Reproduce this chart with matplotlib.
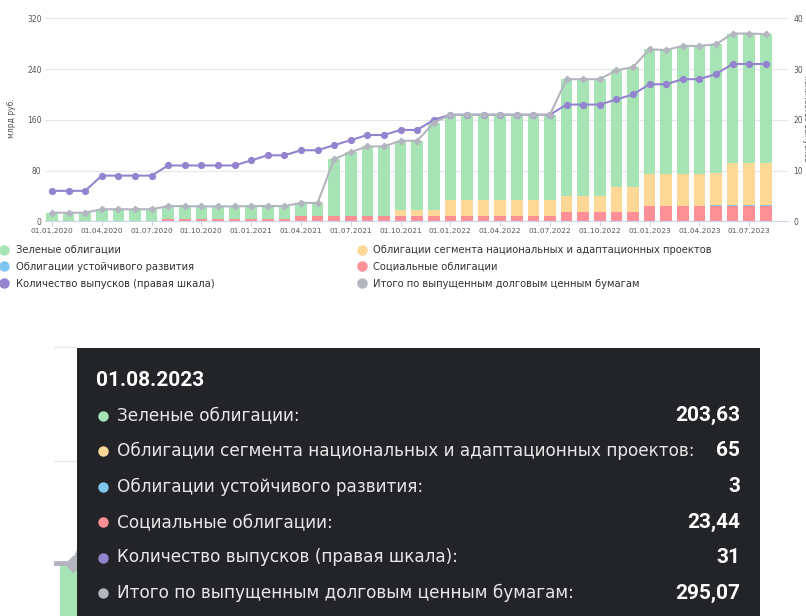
import numpy as np
import pandas as pd
import matplotlib
matplotlib.use("Agg")
import matplotlib.pyplot as plt
from matplotlib.lines import Line2D

# monthly dates 01.01.2020 .. 01.08.2023
months = pd.date_range("2020-01-01", "2023-08-01", freq="MS")
date_labels = list(months.strftime("%d.%m.%Y"))

# billion rub.
green = [13.5, 13.5, 13.5, 19, 19, 19, 19, 20, 20, 19.5, 19.5, 19.5, 20, 20, 20,
         20, 20, 89, 100, 109, 109, 108.5, 108.5, 136.5,
         135, 135, 135, 135, 135, 135, 135, 184, 184, 184, 184, 189,
         197, 196, 202.5, 202.5, 203.1, 204, 204, 203.63]
national = [0, 0, 0, 0, 0, 0, 0, 0, 0, 0, 0, 0, 0, 0, 0,
            0, 0, 0, 0, 0, 0, 9.5, 9.5, 9.5,
            24, 24, 24, 24, 24, 24, 24, 25, 25, 26, 40, 40,
            49.5, 49.5, 49.5, 49.5, 49.5, 65.5, 65.5, 65]
sustainable = [0] * 40 + [3, 3, 3, 3]
social = [0, 0, 0, 0, 0, 0, 0, 4, 4, 4, 4, 4, 4, 4, 4,
          9, 9, 9, 9, 9, 9, 9, 9, 9,
          9, 9, 9, 9, 9, 9, 9, 15, 15, 14, 14, 14,
          24.5, 24.5, 24.5, 24.5, 23.4, 23.44, 23.44, 23.44]
total = [13.5, 13.5, 13.5, 19, 19, 19, 19, 24, 24, 23.5, 23.5, 23.5, 24, 24, 24,
         29, 29, 98, 109, 118, 118, 127, 127, 155,
         168, 168, 168, 168, 168, 168, 168, 224, 224, 224, 238, 243,
         271, 270, 276.5, 276.5, 279, 296, 296, 295.07]
# number of issues (right scale)
issues = [6, 6, 6, 9, 9, 9, 9, 11, 11, 11, 11, 11, 12, 13, 13,
          14, 14, 15, 16, 17, 17, 18, 18, 20,
          21, 21, 21, 21, 21, 21, 21, 23, 23, 23, 24, 25,
          27, 27, 28, 28, 29, 31, 31, 31]

names = ["Зеленые облигации",
         "Облигации сегмента национальных и адаптационных проектов",
         "Облигации устойчивого развития",
         "Социальные облигации",
         "Количество выпусков (правая шкала)",
         "Итого по выпущенным долговым ценным бумагам"]
c_green, c_nat, c_sust, c_soc = "#a6e4b5", "#fed897", "#7fc7f0", "#fd9097"
c_purple, c_gray = "#9484d0", "#b3b5bf"
txt = "#333333"

W, H = 806, 616
fig = plt.figure(figsize=(W / 100, H / 100), dpi=100)


def box(x0, y0, x1, y1):
    return [x0 / W, 1 - y1 / H, (x1 - x0) / W, (y1 - y0) / H]


x = np.arange(len(months))

ax = fig.add_axes(box(45, 18.3, 788, 221.3))
bottom = np.zeros(len(x))
for vals, col in [(social, c_soc), (sustainable, c_sust), (national, c_nat), (green, c_green)]:
    ax.bar(x, vals, 0.7, bottom=bottom, color=col, zorder=2)
    bottom += np.array(vals)
ax.set_xlim(-0.42, 44.34)
ax.set_ylim(0, 320)
ax.set_yticks([0, 80, 160, 240, 320])
ax.set_axisbelow(True)
ax.yaxis.grid(True, color="#e6e6e6", lw=0.8)
ax.set_xticks(x[::3])
ax.set_xticklabels(date_labels[::3])
for s in ["top", "left", "right"]:
    ax.spines[s].set_visible(False)
ax.spines["bottom"].set_color("#ccd6eb")
ax.tick_params(axis="x", length=3.5, width=0.8, color="#ccd6eb", pad=1,
               labelsize=5.3, labelcolor="#555555")
ax.tick_params(axis="y", length=0, pad=2.5, labelsize=5.5, labelcolor="#555555")

ax2 = ax.twinx()
ax2.plot(x, issues, color=c_purple, lw=1.5, marker="o", ms=4.2, zorder=3)
ax2.set_ylim(0, 40)
ax2.set_yticks([0, 10, 20, 30, 40])
for s in ax2.spines.values():
    s.set_visible(False)
ax2.tick_params(axis="y", length=0, pad=4, labelsize=5.5, labelcolor="#555555")

ax3 = ax.twinx()
ax3.plot(x, total, color=c_gray, lw=1.5, marker="D", ms=3.2, zorder=4)
ax3.set_ylim(0, 320)
ax3.axis("off")

fig.text(12 / W, 1 - 118 / H, "млрд руб.", rotation=90, ha="center", va="center",
         fontsize=5.5, color="#555555")
fig.text(801.5 / W, 1 - 118 / H, "количество выпусков", rotation=270, ha="left",
         va="center", fontsize=5.5, color="#555555")


# legend, two columns
def handle(col, lab):
    return Line2D([], [], ls="none", marker="o", ms=6.5, color=col, label=lab)


left_items = [handle(c_green, names[0]), handle(c_sust, names[2]), handle(c_purple, names[4])]
right_items = [handle(c_nat, names[1]), handle(c_soc, names[3]), handle(c_gray, names[5])]
for items, x0 in [(left_items, 0), (right_items, 357.7)]:
    fig.legend(handles=items, loc="upper left", bbox_to_anchor=(x0 / W, 1 - 245 / H),
               frameon=False, borderpad=0, borderaxespad=0, handlelength=0.8,
               handletextpad=0.75, labelspacing=0.68, prop={"size": 7.2},
               labelcolor=txt)

# background fragment behind the tooltip
bg = fig.add_axes(box(54, 330, 77, 616))
bsum = np.zeros(len(x))
for vals, col in [(social, c_soc), (sustainable, c_sust), (national, c_nat), (green, c_green)]:
    bg.bar(x, vals, 0.7, bottom=bsum, color=col, zorder=2)
    bsum += np.array(vals)
bg.set_xlim(30 - 0.51, 30 + 0.11)
bg.set_ylim(131.2, 331.9)
bg.set_yticks([240, 320])
bg.set_axisbelow(True)
bg.yaxis.grid(True, color="#e6e6e6", lw=0.8)
bg.set_xticks([])
bg.tick_params(axis="y", length=0, labelleft=False)
for s in bg.spines.values():
    s.set_visible(False)
bg2 = bg.twinx()
bg2.plot(x, issues, color=c_purple, lw=3, zorder=3)
bg2.set_ylim(131.2 / 8, 331.9 / 8)
bg2.axis("off")
bg3 = bg.twinx()
bg3.plot(x, total, color=c_gray, lw=3, marker="D", ms=8, zorder=4)
bg3.set_ylim(131.2, 331.9)
bg3.axis("off")

# tooltip
tip = fig.add_axes(box(77, 348, 760, 616))
tip.set_facecolor("#232428")
tip.set_xlim(77, 760)
tip.set_ylim(616, 348)
tip.set_xticks([])
tip.set_yticks([])
for s in tip.spines.values():
    s.set_visible(False)


def fmt(v):
    return f"{v:g}".replace(".", ",")


tip.text(96, 380, date_labels[-1], color="white", fontsize=15, fontweight="bold",
         family="Roboto", va="center", ha="left")
rows = [(names[0] + ":", green[-1], c_green),
        (names[1] + ":", national[-1], c_nat),
        (names[2] + ":", sustainable[-1], c_sust),
        (names[3] + ":", social[-1], c_soc),
        (names[4] + ":", issues[-1], c_purple),
        (names[5] + ":", total[-1], c_gray)]
for i, (lab, val, col) in enumerate(rows):
    yy = 415.5 + 35.5 * i
    tip.plot(103, yy, marker="o", ms=6.5, color=col, clip_on=False)
    tip.text(117, yy, lab, color="#e8e8e8", fontsize=12.2, va="center", ha="left")
    tip.text(740, yy, fmt(val), color="white", fontsize=15, fontweight="bold",
             family="Roboto", va="center", ha="right")

fig.savefig("out.png", dpi=100)
